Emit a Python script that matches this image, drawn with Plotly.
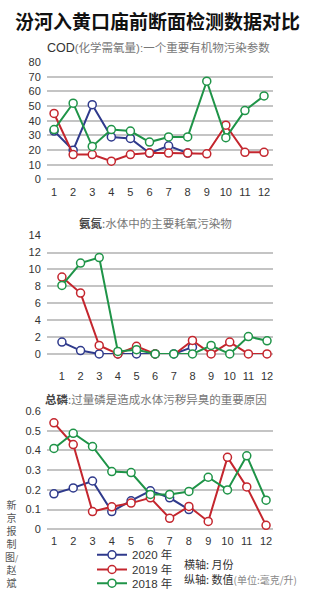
import plotly.graph_objects as go

months = list(range(1, 13))

cod_2020 = [33, 20, 51, 29, 28, 18, 23, 18]
cod_2019 = [45, 17, 17, 12.5, 17, 18, 18, 18, 17.5, 37, 18.5, 18.5]
cod_2018 = [34, 52, 22.5, 34, 33, 25.5, 29, 29, 67, 28.5, 47, 57]

nh_2020 = [1.4, 0.4, 0, 0, 0, 0, 0, 0.8]
nh_2019 = [9.1, 7.2, 1.0, 0, 0.9, 0, -0.1, 1.6, 0, 1.4, 0, 0]
nh_2018 = [8.1, 10.75, 11.4, 0.3, 0.5, 0, 0, 0, 1.0, 0, 2.05, 1.55]

tp_2020 = [0.18, 0.21, 0.245, 0.09, 0.145, 0.195, 0.16, 0.10]
tp_2019 = [0.54, 0.43, 0.09, 0.114, 0.133, 0.16, 0.056, 0.116, 0.04, 0.365, 0.215, 0.02]
tp_2018 = [0.41, 0.487, 0.42, 0.293, 0.288, 0.177, 0.177, 0.192, 0.264, 0.20, 0.373, 0.148]

series_names = ["2020 年", "2019 年", "2018 年"]
colors = ["#2f3a8c", "#c4262e", "#1f9448"]

panels = [
    (cod_2020, cod_2019, cod_2018),
    (nh_2020, nh_2019, nh_2018),
    (tp_2020, tp_2019, tp_2018),
]
y_ranges = [[0, 80], [0, 14], [0, 0.6]]
y_dticks = [10, 2, 0.1]
x_ranges = [[0.63, 12.47], [0.2, 12.32], [0.64, 12.36]]
y_domains = [[0.705, 0.9045], [0.4083, 0.6095], [0.11, 0.3112]]
x_label_gap = [1, 11, 0]
X_DOMAIN = [47 / 310, 273 / 310]

fig = go.Figure()
legend_ids = ["legend", "legend2", "legend3"]

for p, data in enumerate(panels):
    xa = "x" if p == 0 else f"x{p+1}"
    ya = "y" if p == 0 else f"y{p+1}"
    for s, vals in enumerate(data):
        fig.add_trace(go.Scatter(
            x=months[:len(vals)], y=vals, mode="lines+markers",
            name=series_names[s],
            line=dict(color=colors[s], width=2),
            marker=dict(symbol="circle", size=8, color="white",
                        line=dict(color=colors[s], width=1.5)),
            xaxis=xa, yaxis=ya, cliponaxis=False,
            showlegend=(p == 2), legend=legend_ids[s],
        ))

axis_font = dict(family="Liberation Sans, Arial, sans-serif", size=11, color="#333")
layout = dict(
    width=310, height=600,
    margin=dict(l=0, r=0, t=0, b=0),
    paper_bgcolor="white", plot_bgcolor="white",
)
for p in range(3):
    xk = "xaxis" if p == 0 else f"xaxis{p+1}"
    yk = "yaxis" if p == 0 else f"yaxis{p+1}"
    ya = "y" if p == 0 else f"y{p+1}"
    xa = "x" if p == 0 else f"x{p+1}"
    layout[xk] = dict(domain=X_DOMAIN, anchor=ya, range=x_ranges[p],
                      tickvals=months, showgrid=False, zeroline=False,
                      showline=False, ticks="outside", ticklen=x_label_gap[p] + 1,
                      tickcolor="rgba(0,0,0,0)", tickfont=axis_font)
    layout[yk] = dict(domain=y_domains[p], anchor=xa, range=y_ranges[p],
                      dtick=y_dticks[p], showgrid=True, gridcolor="#c4c4c4",
                      gridwidth=1.5, zeroline=True, zerolinecolor="#c4c4c4",
                      zerolinewidth=1.5, showline=False, ticks="outside", ticklen=3,
                      tickcolor="rgba(0,0,0,0)", tickfont=axis_font,
                      tickformat=".1~f" if p == 2 else "d")
fig.update_layout(**layout)

leg_y = [560, 575, 589]
for i, lid in enumerate(legend_ids):
    fig.update_layout({lid: dict(
        x=92 / 310, y=1 - leg_y[i] / 600, xanchor="left", yanchor="middle",
        bgcolor="rgba(0,0,0,0)", borderwidth=0,
        font=dict(family="Liberation Sans, Noto Sans CJK SC, sans-serif", size=11.5, color="#333"),
        tracegroupgap=0, itemwidth=30,
    )})

cjk = "Noto Sans CJK SC"
annotations = [
    dict(text="<b>汾河入黄口庙前断面检测数据对比</b>", x=157 / 310, y=1 - 15 / 600,
         font=dict(family=cjk, size=19, color="#111")),
    dict(text="COD<span style='font-size:11.5px;color:#777'>(化学需氧量):一个重要有机物污染参数</span>",
         x=45 / 310, y=1 - 43 / 600, xanchor="left",
         font=dict(family="Liberation Sans, " + cjk, size=12.5, color="#333")),
    dict(text="<b>氨氮</b><span style='color:#777'>:水体中的主要耗氧污染物</span>",
         x=155 / 310, y=1 - 221 / 600,
         font=dict(family=cjk, size=11.5, color="#444")),
    dict(text="<b>总磷</b><span style='color:#777'>:过量磷是造成水体污秽异臭的重要原因</span>",
         x=156 / 310, y=1 - 401 / 600,
         font=dict(family=cjk, size=11.5, color="#444")),
    dict(text="横轴: 月份", x=182 / 310, y=1 - 569.5 / 600, xanchor="left",
         font=dict(family=cjk, size=11, color="#333")),
    dict(text="纵轴: 数值<span style='font-size:10px;color:#888'>(单位:毫克/升)</span>",
         x=182 / 310, y=1 - 585 / 600, xanchor="left",
         font=dict(family=cjk, size=11, color="#333")),
    dict(text="<br>".join(["新", "京", "报", "制", "图<span style='font-size:8px'>/</span>", "赵", "斌"]),
         x=11 / 310, y=1 - 548 / 600, xanchor="center", yanchor="middle",
         font=dict(family=cjk, size=10, color="#555")),
]
for a in annotations:
    a.setdefault("xanchor", "center")
    a.setdefault("yanchor", "middle")
    a.update(xref="paper", yref="paper", showarrow=False)
fig.update_layout(annotations=annotations)

fig.write_html("out.html")
